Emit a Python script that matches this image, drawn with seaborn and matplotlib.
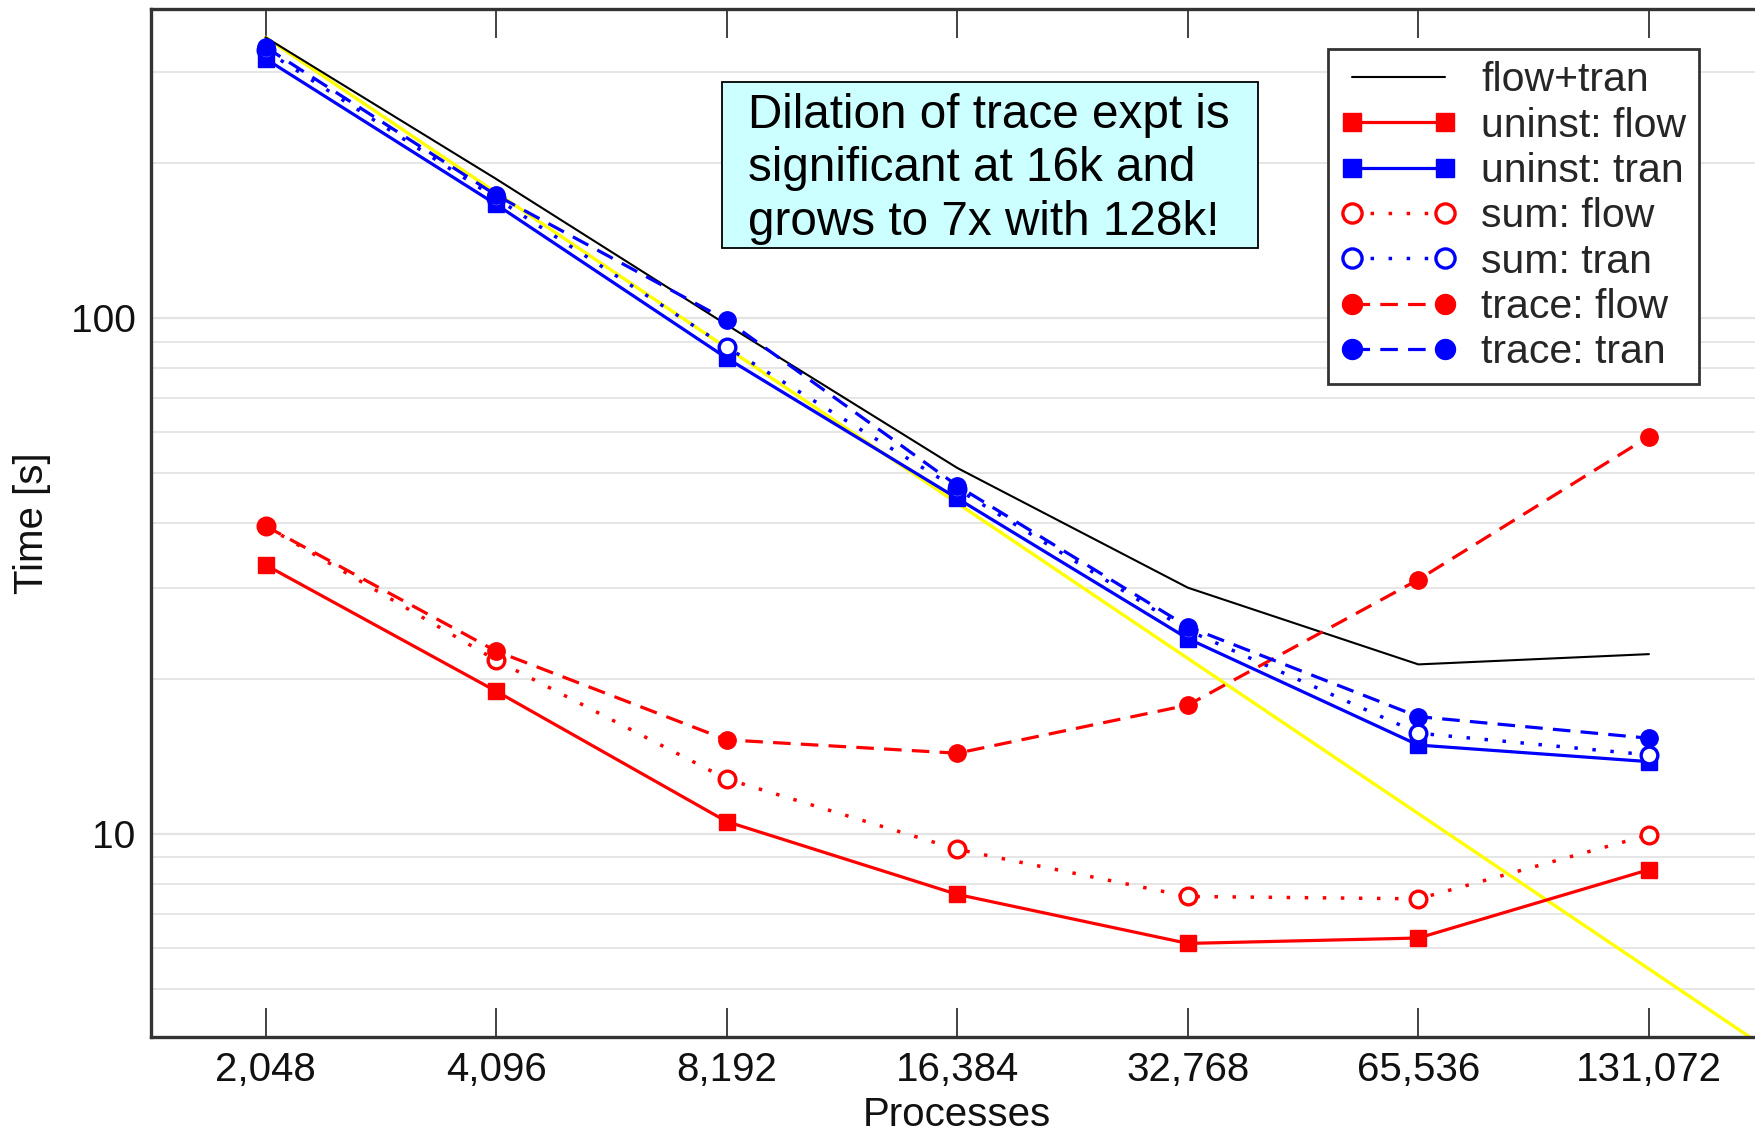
import matplotlib
matplotlib.use("Agg")
import matplotlib.pyplot as plt
from matplotlib.patches import Rectangle
from matplotlib.ticker import FixedLocator, NullLocator, LogLocator, NullFormatter
import seaborn as sns
import pandas as pd

# Process counts (x axis)
processes = [2048, 4096, 8192, 16384, 32768, 65536, 131072]
tick_labels = ["2,048", "4,096", "8,192", "16,384", "32,768", "65,536", "131,072"]

# Times in seconds
flow_tran = [350, 186, 97, 51.2, 30.0, 21.3, 22.3]
uninst_flow = [33.2, 18.9, 10.56, 7.63, 6.13, 6.28, 8.52]
uninst_tran = [318, 166, 83.6, 44.7, 23.9, 14.86, 13.8]
sum_flow = [39.5, 21.7, 12.77, 9.33, 7.56, 7.48, 9.95]
sum_tran = [330, 170.6, 87.8, 46.6, 24.8, 15.67, 14.22]
trace_flow = [39.5, 22.6, 15.21, 14.33, 17.76, 31.1, 58.9]
trace_tran = [335, 173, 99, 47.3, 25.2, 16.87, 15.32]

# Ideal (linear) scaling reference
ideal_procs = [2048, 4096, 8192, 16384, 32768, 65536, 131072, 262144]
ideal_time = [350, 175, 87.5, 43.75, 21.88, 10.94, 5.47, 2.73]

note = "Dilation of trace expt is\nsignificant at 16k and\ngrows to 7x with 128k!"

sns.set_theme(style="white")
plt.rcParams["font.family"] = ["Liberation Sans", "DejaVu Sans"]

fig = plt.figure(figsize=(17.55, 11.35), dpi=100)
ax = fig.add_axes([0.086, 0.086, 0.914, 0.906])

RED = "#ff0000"
BLUE = "#0000ff"

sns.lineplot(x=ideal_procs, y=ideal_time, ax=ax, color="#ffff00", linewidth=2.4,
             label="_ideal", zorder=2)

series = [
    ("flow+tran", flow_tran, dict(color="black", linewidth=1.5, linestyle="-")),
    ("uninst: flow", uninst_flow, dict(color=RED, linewidth=2.3, linestyle="-", marker="s",
                                       markersize=11.5, markerfacecolor=RED, markeredgecolor=RED,
                                       markeredgewidth=1)),
    ("uninst: tran", uninst_tran, dict(color=BLUE, linewidth=2.3, linestyle="-", marker="s",
                                       markersize=11.5, markerfacecolor=BLUE, markeredgecolor=BLUE,
                                       markeredgewidth=1)),
    ("sum: flow", sum_flow, dict(color=RED, linewidth=2.5, linestyle=(0, (1, 4.2)), marker="o",
                                 markersize=12, markerfacecolor="white", markeredgecolor=RED,
                                 markeredgewidth=2.4)),
    ("sum: tran", sum_tran, dict(color=BLUE, linewidth=2.5, linestyle=(0, (1, 4.2)), marker="o",
                                 markersize=12, markerfacecolor="white", markeredgecolor=BLUE,
                                 markeredgewidth=2.4)),
    ("trace: flow", trace_flow, dict(color=RED, linewidth=2.3, linestyle=(0, (5.5, 3.2)), marker="o",
                                     markersize=12.5, markerfacecolor=RED, markeredgecolor=RED,
                                     markeredgewidth=1)),
    ("trace: tran", trace_tran, dict(color=BLUE, linewidth=2.3, linestyle=(0, (5.5, 3.2)), marker="o",
                                     markersize=12.5, markerfacecolor=BLUE, markeredgecolor=BLUE,
                                     markeredgewidth=1)),
]

for name, vals, style in series:
    df = pd.DataFrame({"Processes": processes, "Time": vals})
    sns.lineplot(data=df, x="Processes", y="Time", ax=ax, label=name, zorder=3, **style)

ax.set_xscale("log", base=2)
ax.set_yscale("log")
ax.set_xlim(1451, 180300)
ax.set_ylim(4.03, 397)

ax.xaxis.set_major_locator(FixedLocator(processes))
ax.set_xticks(processes)
ax.set_xticklabels(tick_labels)
ax.xaxis.set_minor_locator(NullLocator())
ax.yaxis.set_major_locator(FixedLocator([10, 100]))
ax.set_yticklabels(["10", "100"])
ax.yaxis.set_minor_locator(LogLocator(base=10, subs=range(2, 10)))
ax.yaxis.set_minor_formatter(NullFormatter())

ax.tick_params(axis="x", which="major", direction="in", length=21, width=1.3,
               color="#333333", top=True, bottom=True, labelsize=29, pad=10,
               labelcolor="#111111")
ax.tick_params(axis="y", which="both", length=0, labelsize=28, pad=11, labelcolor="#111111")

ax.grid(False)
ax.yaxis.grid(True, which="major", color="#e3e3e3", linewidth=1.6)
ax.yaxis.grid(True, which="minor", color="#e6e6e6", linewidth=1.4)
ax.set_axisbelow(True)

for side in ("left", "bottom", "top"):
    ax.spines[side].set_color("#333333")
    ax.spines[side].set_linewidth(2.4)
ax.spines["right"].set_visible(False)

ax.set_xlabel("Processes", fontsize=29, color="#111111")
ax.set_ylabel("Time [s]", fontsize=29, color="#111111")
ax.xaxis.set_label_coords(0.5025, -0.057)
ax.yaxis.set_label_coords(-0.062, 0.50)

handles, labels = ax.get_legend_handles_labels()
keep = [(h, l) for h, l in zip(handles, labels) if not l.startswith("_")]
leg = ax.legend([h for h, _ in keep], [l for _, l in keep],
                loc="upper right", bbox_to_anchor=(0.965, 0.9613), borderaxespad=0,
                fontsize=29.5, numpoints=2, handlelength=2.85, handletextpad=0.6,
                labelspacing=0.18, borderpad=0.3, fancybox=False, framealpha=1,
                edgecolor="#333333", markerscale=1.15)
leg.get_frame().set_linewidth(2)

ax.add_patch(Rectangle((0.356, 0.768), 0.334, 0.161, transform=ax.transAxes,
                       facecolor="#ccffff", edgecolor="black", linewidth=1.3, zorder=5))
ax.text(0.372, 0.8445, note, transform=ax.transAxes, ha="left", va="center",
        fontsize=34.3, color="black", linespacing=1.23, zorder=6)

fig.savefig("out.png", dpi=100)
